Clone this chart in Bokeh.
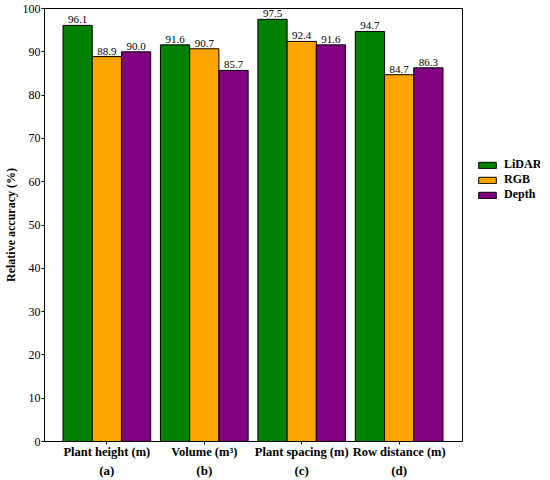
from bokeh.plotting import figure
from bokeh.layouts import row
from bokeh.models import (ColumnDataSource, Range1d, FixedTicker, LinearAxis,
                          Legend, LegendItem)
from bokeh.transform import dodge
from bokeh.embed import file_html
from bokeh.resources import INLINE

categories = ["Plant height (m)", "Volume (m³)", "Plant spacing (m)", "Row distance (m)"]
subtitles = ["(a)", "(b)", "(c)", "(d)"]
positions = [1, 2, 3, 4]
lidar = [96.1, 91.6, 97.5, 94.7]
rgb = [88.9, 90.7, 92.4, 84.7]
depth = [90.0, 85.7, 91.6, 86.3]
y_ticks = [0, 10, 20, 30, 40, 50, 60, 70, 80, 90, 100]

series = [("LiDAR", lidar, "#008000", -0.3),
          ("RGB", rgb, "#FFA500", 0.0),
          ("Depth", depth, "#800080", 0.3)]

FONT = "Liberation Serif"
FRAME_W = 418
FRAME_H = 433

src = ColumnDataSource(dict(
    x=positions,
    lidar=lidar, rgb=rgb, depth=depth,
    lidar_lbl=["%.1f" % v for v in lidar],
    rgb_lbl=["%.1f" % v for v in rgb],
    depth_lbl=["%.1f" % v for v in depth],
))

p = figure(frame_width=FRAME_W, frame_height=FRAME_H,
           output_backend="svg", toolbar_location=None,
           x_range=Range1d(0.36, 4.65), y_range=Range1d(0, 100),
           min_border_top=8, min_border_right=6, min_border_bottom=36,
           min_border_left=20)
p.background_fill_color = "white"
p.border_fill_color = "white"
p.outline_line_color = "black"
p.outline_line_width = 1
p.xgrid.visible = False
p.ygrid.visible = False

for name, vals, color, off in series:
    key = name.lower()
    p.vbar(x=dodge("x", off, range=p.x_range), top=key, width=0.3, source=src,
           fill_color=color, line_color="black", line_width=1)
    p.text(x=dodge("x", off, range=p.x_range), y=key, text=key + "_lbl", source=src,
           text_align="center", text_baseline="bottom", y_offset=-2,
           text_font_size="11px", text_font=FONT, text_color="black")

# y axis
ya = p.yaxis[0]
ya.ticker = FixedTicker(ticks=y_ticks)
ya.axis_label = "Relative accuracy (%)"
ya.axis_label_text_font = FONT
ya.axis_label_text_font_style = "bold"
ya.axis_label_text_font_size = "12px"
ya.axis_label_text_color = "black"
ya.axis_label_standoff = 2
ya.major_label_text_font = FONT
ya.major_label_text_font_size = "12px"
ya.major_label_text_color = "black"
ya.major_label_standoff = 1
ya.major_tick_out = 3
ya.major_tick_in = 0
ya.minor_tick_out = 0
ya.minor_tick_in = 0
ya.axis_line_color = "black"
ya.major_tick_line_color = "black"

# x axis (category names)
xa = p.xaxis[0]
xa.ticker = FixedTicker(ticks=positions)
xa.major_label_overrides = {pos: lab for pos, lab in zip(positions, categories)}
xa.major_label_text_font = FONT
xa.major_label_text_font_style = "bold"
xa.major_label_text_font_size = "12.5px"
xa.major_label_text_color = "black"
xa.major_label_standoff = 0
xa.major_tick_out = 3
xa.major_tick_in = 0
xa.minor_tick_out = 0
xa.minor_tick_in = 0
xa.axis_line_color = "black"
xa.major_tick_line_color = "black"

# second x axis (subfigure letters)
xa2 = LinearAxis(ticker=FixedTicker(ticks=positions))
xa2.major_label_overrides = {pos: lab for pos, lab in zip(positions, subtitles)}
xa2.major_label_text_font = FONT
xa2.major_label_text_font_style = "bold"
xa2.major_label_text_font_size = "13px"
xa2.major_label_text_color = "black"
xa2.major_label_standoff = 1
xa2.major_tick_out = 0
xa2.major_tick_in = 0
xa2.minor_tick_out = 0
xa2.minor_tick_in = 0
xa2.axis_line_color = None
p.add_layout(xa2, "below")

# legend panel as a small companion figure (frame aligned with main frame)
q = figure(frame_width=72, frame_height=FRAME_H, output_backend="svg", toolbar_location=None,
           x_range=Range1d(-10, -9), y_range=Range1d(0, 1),
           min_border_left=0, min_border_top=8, min_border_right=0,
           min_border_bottom=36, x_axis_type=None, y_axis_type=None)
q.outline_line_color = None
q.background_fill_alpha = 0
q.border_fill_color = "white"
q.xgrid.visible = False
q.ygrid.visible = False
items = []
for name, vals, color, off in series:
    key = name.lower()
    r = q.vbar(x="x", top=key, width=0.3, source=src,
               fill_color=color, line_color="black", line_width=1)
    items.append(LegendItem(label=name, renderers=[r]))

legend = Legend(items=items, location=(8, 239))
legend.label_text_font = FONT
legend.label_text_font_style = "bold"
legend.label_text_font_size = "12px"
legend.label_text_color = "black"
legend.glyph_width = 22
legend.glyph_height = 8
legend.label_height = 12
legend.label_standoff = 6
legend.spacing = 0
legend.padding = 0
legend.margin = 0
legend.border_line_color = None
legend.background_fill_alpha = 0
q.add_layout(legend, "center")

layout = row(p, q, spacing=0)
open("out.html", "w").write(file_html(layout, INLINE))
